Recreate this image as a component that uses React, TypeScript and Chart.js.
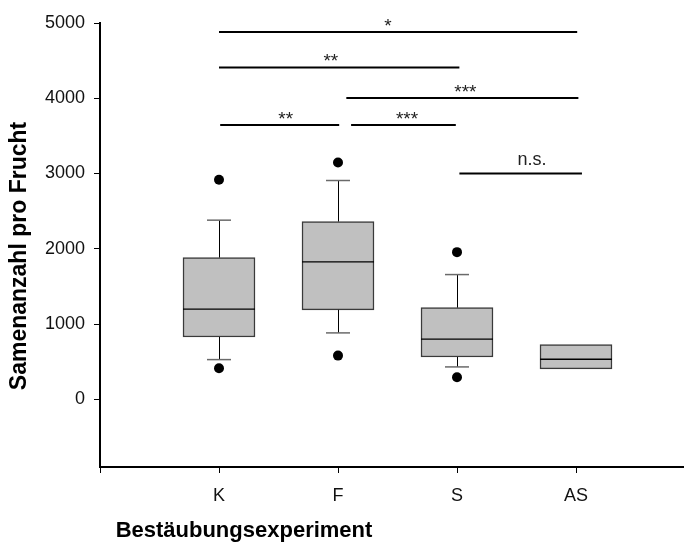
import { useEffect, useRef } from 'react';
import { Chart, registerables } from 'chart.js';

Chart.register(...registerables);

// ---- data ----
const categories = ['K', 'F', 'S', 'AS'];
const positions = [1, 2, 3, 4];
const q1 = [828, 1188, 562, 403];
const median = [1197, 1826, 798, 532];
const q3 = [1883, 2362, 1218, 726];
const whiskerLow: (number | null)[] = [527, 882, 430, null];
const whiskerHigh: (number | null)[] = [2380, 2907, 1657, null];
const outlierHigh: (number | null)[] = [2916, 3146, 1955, null];
const outlierLow: (number | null)[] = [412, 580, 293, null];
const yTicks = [0, 1000, 2000, 3000, 4000, 5000];
const xTicks = [0, 1, 2, 3, 4, 5];

// significance brackets (x in category units, y in data units)
const sigFrom = [1.0, 1.0, 2.07, 1.01, 2.11, 3.02];
const sigTo = [4.01, 3.02, 4.02, 2.01, 2.99, 4.05];
const sigY = [4880, 4410, 4003, 3645, 3645, 3000];
const sigLabel = ['*', '**', '***', '**', '***', 'n.s.'];
const sigLabelX = [2.42, 1.94, 3.07, 1.56, 2.58, 3.63];

const yTitle = 'Samenanzahl pro Frucht';
const xTitle = 'Bestäubungsexperiment';

const FONT = '"Liberation Sans", Arial, Helvetica, sans-serif';

const boxPlugin = {
  id: 'boxExtras',
  afterDatasetsDraw(chart: any) {
    const { ctx, scales } = chart;
    const xs = scales.x;
    const ys = scales.y;
    const meta = chart.getDatasetMeta(0);
    ctx.save();
    positions.forEach((p, i) => {
      const cx = xs.getPixelForValue(p);
      const bar = meta.data[i];
      const w = bar ? bar.width : 72;
      // whiskers
      ctx.strokeStyle = '#000';
      ctx.lineWidth = 1;
      const hi = whiskerHigh[i];
      const lo = whiskerLow[i];
      if (hi !== null) {
        ctx.beginPath();
        ctx.moveTo(Math.round(cx) + 0.5, ys.getPixelForValue(q3[i]));
        ctx.lineTo(Math.round(cx) + 0.5, ys.getPixelForValue(hi));
        ctx.stroke();
      }
      if (lo !== null) {
        ctx.beginPath();
        ctx.moveTo(Math.round(cx) + 0.5, ys.getPixelForValue(q1[i]));
        ctx.lineTo(Math.round(cx) + 0.5, ys.getPixelForValue(lo));
        ctx.stroke();
      }
      // caps
      ctx.strokeStyle = '#6a6a6a';
      ctx.lineWidth = 1.5;
      [hi, lo].forEach((v) => {
        if (v === null) return;
        const py = ys.getPixelForValue(v);
        ctx.beginPath();
        ctx.moveTo(cx - 12, py);
        ctx.lineTo(cx + 12, py);
        ctx.stroke();
      });
      // median
      ctx.strokeStyle = '#000';
      ctx.lineWidth = 1.3;
      const my = ys.getPixelForValue(median[i]);
      ctx.beginPath();
      ctx.moveTo(cx - w / 2, my);
      ctx.lineTo(cx + w / 2, my);
      ctx.stroke();
    });
    ctx.restore();
  },
  afterDraw(chart: any) {
    const { ctx, scales, chartArea } = chart;
    const xs = scales.x;
    const ys = scales.y;
    ctx.save();
    // significance lines
    sigY.forEach((v, i) => {
      const py = ys.getPixelForValue(v);
      ctx.strokeStyle = '#000';
      ctx.lineWidth = 2;
      ctx.beginPath();
      ctx.moveTo(xs.getPixelForValue(sigFrom[i]), py);
      ctx.lineTo(xs.getPixelForValue(sigTo[i]), py);
      ctx.stroke();
      const lx = xs.getPixelForValue(sigLabelX[i]);
      ctx.fillStyle = '#222';
      ctx.textAlign = 'center';
      if (sigLabel[i].includes('*')) {
        ctx.font = `19px ${FONT}`;
        const m = ctx.measureText(sigLabel[i]);
        ctx.textBaseline = 'alphabetic';
        const mid = (m.actualBoundingBoxAscent - m.actualBoundingBoxDescent) / 2;
        ctx.fillText(sigLabel[i], lx, py - 9.5 + mid);
      } else {
        ctx.font = `18px ${FONT}`;
        ctx.textBaseline = 'alphabetic';
        ctx.fillText(sigLabel[i], lx, py - 9);
      }
    });
    // axis titles
    ctx.fillStyle = '#000';
    ctx.textAlign = 'center';
    ctx.textBaseline = 'middle';
    ctx.font = `bold 22px ${FONT}`;
    ctx.fillText(xTitle, chartArea.left + 144, chartArea.bottom + 64);
    ctx.save();
    ctx.translate(chartArea.left - 80, chartArea.top + 233);
    ctx.rotate(-Math.PI / 2);
    ctx.font = `bold 23px ${FONT}`;
    ctx.fillText(yTitle, 0, 0);
    ctx.restore();
    ctx.restore();
  },
};

export default function App() {
  const ref = useRef<HTMLCanvasElement | null>(null);
  useEffect(() => {
    document.body.style.overflow = 'hidden';
    const canvas = ref.current;
    if (!canvas) return;
    const tickFont = { family: FONT, size: 18 };
    const chart = new Chart(canvas, {
      type: 'bar',
      data: {
        datasets: [
          {
            type: 'bar',
            data: positions.map((x, i) => ({ x, y: [q1[i], q3[i]] })) as any,
            backgroundColor: '#c0c0c0',
            borderColor: '#3a3a3a',
            borderWidth: 1.5,
            borderSkipped: false,
            barThickness: 72,
          },
          {
            type: 'scatter',
            data: [
              ...positions
                .map((x, i) => ({ x, y: outlierHigh[i] }))
                .filter((d) => d.y !== null),
              ...positions
                .map((x, i) => ({ x, y: outlierLow[i] }))
                .filter((d) => d.y !== null),
            ] as any,
            pointRadius: 5,
            pointBackgroundColor: '#000',
            pointBorderWidth: 0,
          } as any,
        ],
      },
      plugins: [boxPlugin],
      options: {
        responsive: false,
        animation: false,
        devicePixelRatio: 1,
        layout: { padding: { top: 15, right: 13, left: 0, bottom: 0 } },
        plugins: { legend: { display: false }, tooltip: { enabled: false } },
        scales: {
          x: {
            type: 'linear',
            min: 0,
            max: 5,
            offset: false,
            afterBuildTicks: (s: any) => {
              s.ticks = xTicks.map((v) => ({ value: v }));
            },
            afterFit: (s: any) => {
              s.height = 76;
              s.paddingLeft = 0;
              s.paddingRight = 0;
            },
            border: { display: true, color: '#000', width: 2 },
            grid: {
              offset: false,
              drawOnChartArea: false,
              drawTicks: true,
              tickLength: 6,
              tickColor: '#000',
              tickWidth: 1,
            },
            ticks: {
              autoSkip: false,
              maxRotation: 0,
              padding: 12,
              color: '#111',
              font: tickFont,
              callback: (v: any) => {
                const n = Number(v);
                return n >= 1 && n <= categories.length ? categories[n - 1] : '';
              },
            },
          },
          y: {
            type: 'linear',
            min: -900,
            max: 5000,
            afterBuildTicks: (s: any) => {
              s.ticks = yTicks.map((v) => ({ value: v }));
            },
            afterFit: (s: any) => {
              s.width = 92;
              s.paddingTop = 0;
              s.paddingBottom = 0;
            },
            border: { display: true, color: '#000', width: 2 },
            grid: {
              drawOnChartArea: false,
              drawTicks: true,
              tickLength: 6,
              tickColor: '#000',
              tickWidth: 1,
            },
            ticks: {
              padding: 9,
              color: '#111',
              font: tickFont,
              callback: (v: any) => String(v),
            },
          },
        },
      },
    } as any);
    return () => chart.destroy();
  }, []);
  return (
    <canvas
      ref={ref}
      width={700}
      height={535}
      style={{ display: 'block', width: 700, height: 535 }}
    />
  );
}
